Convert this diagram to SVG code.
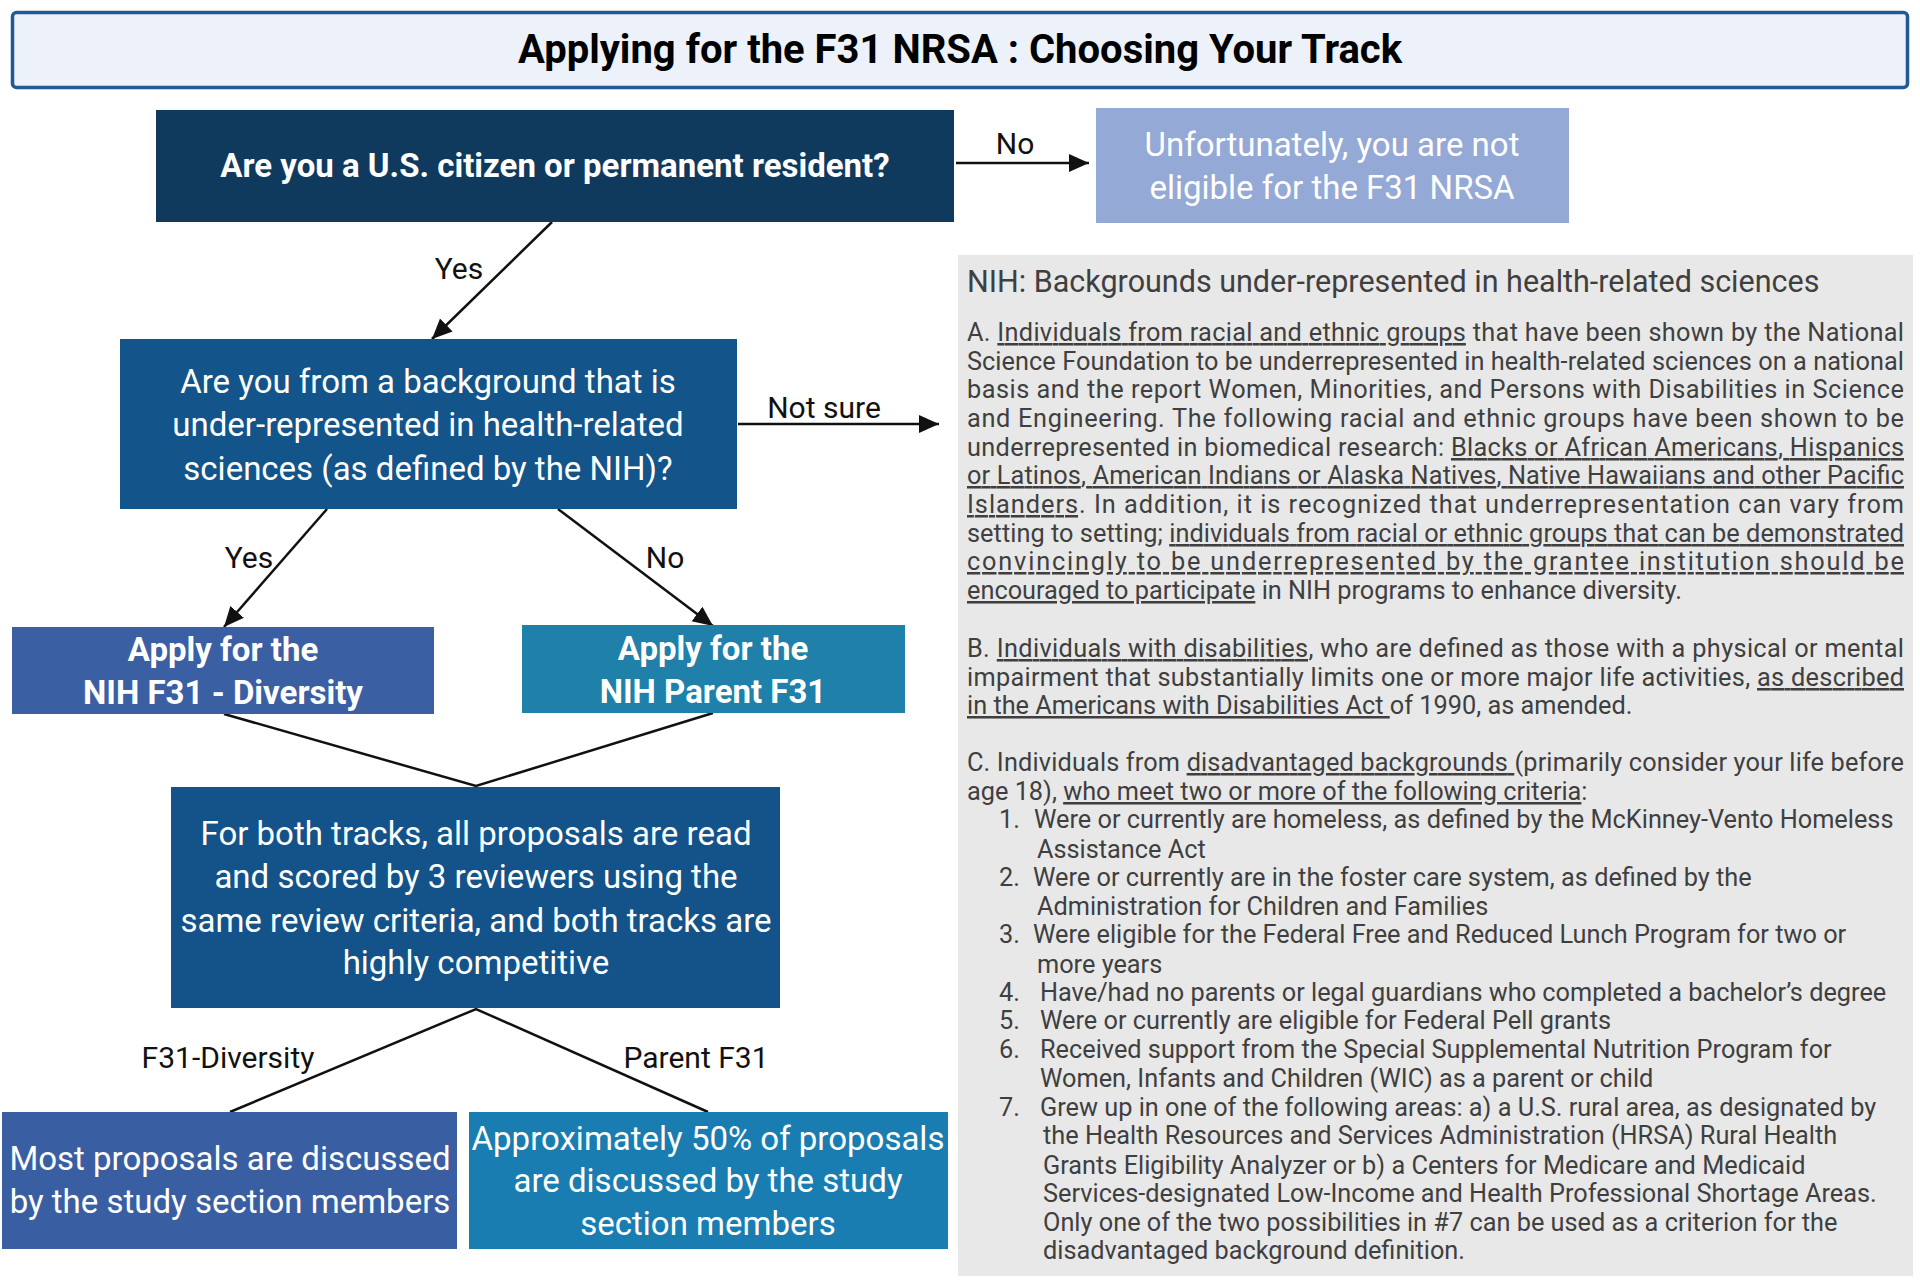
<svg xmlns="http://www.w3.org/2000/svg" width="1920" height="1280" viewBox="0 0 1920 1280">
<defs>
<style>
.t{font-family:Roboto,"Liberation Sans",sans-serif}
.wb{fill:#fff;font-weight:bold;font-size:33px;text-anchor:middle}
.w{fill:#fff;font-size:33px;text-anchor:middle}
.lab{fill:#111;font-size:30px;text-anchor:middle}
.p{fill:#3f3f3f;font-size:25.3px}
.u{text-decoration:underline}
.ln{stroke:#111;stroke-width:2.5;fill:none}
</style>
<marker id="ah" markerUnits="userSpaceOnUse" markerWidth="22" markerHeight="22" viewBox="0 0 22 22" refX="20" refY="11" orient="auto">
<path d="M0,2 L20,11 L0,20 z" fill="#111"/>
</marker>
</defs>
<rect width="1920" height="1280" fill="#fff"/>

<g id="title">
<rect x="12.5" y="12.5" width="1895" height="75" rx="4" fill="#edf2fa" stroke="#1f5a94" stroke-width="3.5"/>
<text class="t" x="960" y="63" font-size="40" font-weight="bold" text-anchor="middle" fill="#000">Applying for the F31 NRSA : Choosing Your Track</text>
</g>

<g id="connectors">
<line class="ln" x1="956" y1="163" x2="1089" y2="163" marker-end="url(#ah)"/>
<line class="ln" x1="552" y1="222" x2="432" y2="339" marker-end="url(#ah)"/>
<line class="ln" x1="738" y1="424" x2="939" y2="424" marker-end="url(#ah)"/>
<line class="ln" x1="327" y1="509" x2="224" y2="627" marker-end="url(#ah)"/>
<line class="ln" x1="558" y1="509" x2="713" y2="626" marker-end="url(#ah)"/>
<polyline class="ln" points="224,714 476,786 713,713"/>
<polyline class="ln" points="230,1112 476,1009 708,1112"/>
<text class="t lab" x="1015" y="154">No</text>
<text class="t lab" x="459" y="279">Yes</text>
<text class="t lab" x="824" y="418">Not sure</text>
<text class="t lab" x="249" y="568">Yes</text>
<text class="t lab" x="665" y="568">No</text>
<text class="t lab" x="228" y="1068">F31-Diversity</text>
<text class="t lab" x="696" y="1068">Parent F31</text>
</g>

<g id="q-citizen">
<rect x="156" y="110" width="798" height="112" fill="#0f3a5e"/>
<text class="t wb" x="555" y="177">Are you a U.S. citizen or permanent resident?</text>
</g>

<g id="not-eligible">
<rect x="1096" y="108" width="473" height="115" fill="#94a9d5"/>
<text class="t w" x="1332" y="156">Unfortunately, you are not</text>
<text class="t w" x="1332" y="199">eligible for the F31 NRSA</text>
</g>

<g id="q-background">
<rect x="120" y="339" width="617" height="170" fill="#13548a"/>
<text class="t w" x="428" y="393">Are you from a background that is</text>
<text class="t w" x="428" y="436">under-represented in health-related</text>
<text class="t w" x="428" y="480">sciences (as defined by the NIH)?</text>
</g>

<g id="apply-diversity">
<rect x="12" y="627" width="422" height="87" fill="#3b5fa3"/>
<text class="t wb" x="223" y="661">Apply for the</text>
<text class="t wb" x="223" y="704">NIH F31 - Diversity</text>
</g>

<g id="apply-parent">
<rect x="522" y="625" width="383" height="88" fill="#1f80a9"/>
<text class="t wb" x="713" y="660">Apply for the</text>
<text class="t wb" x="713" y="703">NIH Parent F31</text>
</g>

<g id="both-tracks">
<rect x="171" y="787" width="609" height="221" fill="#13538a"/>
<text class="t w" x="476" y="845">For both tracks, all proposals are read</text>
<text class="t w" x="476" y="888">and scored by 3 reviewers using the</text>
<text class="t w" x="476" y="932">same review criteria, and both tracks are</text>
<text class="t w" x="476" y="974">highly competitive</text>
</g>

<g id="diversity-outcome">
<rect x="2" y="1112" width="455" height="137" fill="#3a5ea2"/>
<text class="t w" x="230" y="1170">Most proposals are discussed</text>
<text class="t w" x="230" y="1213">by the study section members</text>
</g>

<g id="parent-outcome">
<rect x="469" y="1112" width="479" height="137" fill="#1a7db1"/>
<text class="t w" x="708" y="1150">Approximately 50% of proposals</text>
<text class="t w" x="708" y="1192">are discussed by the study</text>
<text class="t w" x="708" y="1235">section members</text>
</g>

<g id="nih-panel">
<rect x="958" y="255" width="955" height="1021" fill="#e8e8e8"/>
<text class="t" x="967" y="292" font-size="30.5" fill="#3f3f3f">NIH: Backgrounds under-represented in health-related sciences</text>
<g class="t p">
<text x="967" y="341" textLength="937" lengthAdjust="spacing">A. <tspan class="u">Individuals from racial and ethnic groups</tspan> that have been shown by the National</text>
<text x="967" y="370" textLength="937" lengthAdjust="spacing">Science Foundation to be underrepresented in health-related sciences on a national</text>
<text x="967" y="398" textLength="937" lengthAdjust="spacing">basis and the report Women, Minorities, and Persons with Disabilities in Science</text>
<text x="967" y="427" textLength="937" lengthAdjust="spacing">and Engineering. The following racial and ethnic groups have been shown to be</text>
<text x="967" y="456" textLength="937" lengthAdjust="spacing">underrepresented in biomedical research: <tspan class="u">Blacks or African Americans, Hispanics</tspan></text>
<text x="967" y="484" textLength="937" lengthAdjust="spacing"><tspan class="u">or Latinos, American Indians or Alaska Natives, Native Hawaiians and other Pacific</tspan></text>
<text x="967" y="513" textLength="937" lengthAdjust="spacing"><tspan class="u">Islanders</tspan>. In addition, it is recognized that underrepresentation can vary from</text>
<text x="967" y="542" textLength="937" lengthAdjust="spacing">setting to setting; <tspan class="u">individuals from racial or ethnic groups that can be demonstrated</tspan></text>
<text x="967" y="570" textLength="937" lengthAdjust="spacing"><tspan class="u">convincingly to be underrepresented by the grantee institution should be</tspan></text>
<text x="967" y="599"><tspan class="u">encouraged to participate</tspan> in NIH programs to enhance diversity.</text>

<text x="967" y="657" textLength="937" lengthAdjust="spacing">B. <tspan class="u">Individuals with disabilities</tspan>, who are defined as those with a physical or mental</text>
<text x="967" y="686" textLength="937" lengthAdjust="spacing">impairment that substantially limits one or more major life activities, <tspan class="u">as described</tspan></text>
<text x="967" y="714"><tspan class="u">in the Americans with Disabilities Act </tspan>of 1990, as amended.</text>

<text x="967" y="771" textLength="937" lengthAdjust="spacing">C. Individuals from <tspan class="u">disadvantaged backgrounds </tspan>(primarily consider your life before</text>
<text x="967" y="800">age 18), <tspan class="u">who meet two or more of the following criteria</tspan>:</text>

<text x="999" y="828">1.</text>
<text x="1034" y="828">Were or currently are homeless, as defined by the McKinney-Vento Homeless</text>
<text x="1037" y="858">Assistance Act</text>
<text x="999" y="886">2.</text>
<text x="1033" y="886">Were or currently are in the foster care system, as defined by the</text>
<text x="1037" y="915">Administration for Children and Families</text>
<text x="999" y="943">3.</text>
<text x="1033" y="943">Were eligible for the Federal Free and Reduced Lunch Program for two or</text>
<text x="1037" y="973">more years</text>
<text x="999" y="1001">4.</text>
<text x="1040" y="1001">Have/had no parents or legal guardians who completed a bachelor’s degree</text>
<text x="999" y="1029">5.</text>
<text x="1040" y="1029">Were or currently are eligible for Federal Pell grants</text>
<text x="999" y="1058">6.</text>
<text x="1040" y="1058">Received support from the Special Supplemental Nutrition Program for</text>
<text x="1040" y="1087">Women, Infants and Children (WIC) as a parent or child</text>
<text x="999" y="1116">7.</text>
<text x="1040" y="1116">Grew up in one of the following areas: a) a U.S. rural area, as designated by</text>
<text x="1043" y="1144">the Health Resources and Services Administration (HRSA) Rural Health</text>
<text x="1043" y="1174">Grants Eligibility Analyzer or b) a Centers for Medicare and Medicaid</text>
<text x="1043" y="1202">Services-designated Low-Income and Health Professional Shortage Areas.</text>
<text x="1043" y="1231">Only one of the two possibilities in #7 can be used as a criterion for the</text>
<text x="1043" y="1259">disadvantaged background definition.</text>
</g>
</g>
</svg>
